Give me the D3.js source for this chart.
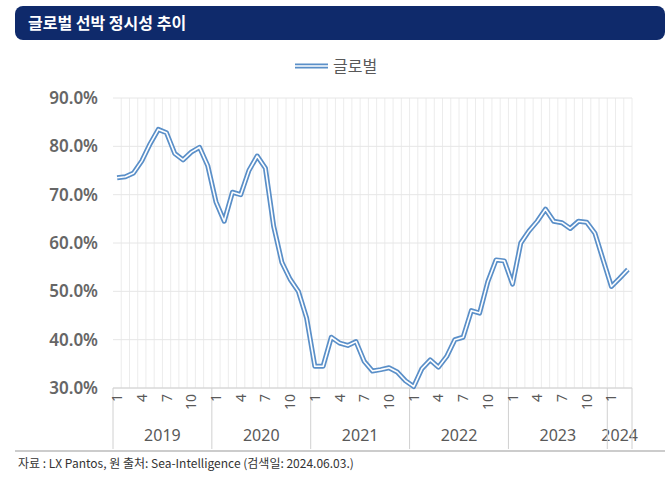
<!DOCTYPE html><html><head><meta charset="utf-8"><script src="https://d3js.org/d3.v7.min.js"></script>
<style>body{margin:0;background:#fff;font-family:"Noto Sans CJK KR","Noto Sans",sans-serif}</style></head><body><svg id="c" width="672" height="489"></svg>
<script>
const years=["2019","2020","2021","2022","2023","2024"];
const monthsPerYear=[12,12,12,12,12,3];
const values=[73.5,73.7,74.5,77,80.5,83.5,82.8,78.5,77.2,78.8,79.8,76,
68.5,64.5,70.5,70,75,78,75.5,63.5,56,52.5,50,44.5,
34.5,34.5,40.5,39.3,38.8,39.6,35.5,33.5,33.8,34.2,33.3,31.5,
30.3,34,35.8,34.3,36.5,40,40.5,46,45.5,52,56.5,56.3,
51.5,60,62.5,64.5,67,64.5,64.2,63,64.5,64.3,62,56.5,
51,52.7,54.5];
const yTicks=[30,40,50,60,70,80,90];
const labelMonths=[1,4,7,10];
const seriesName="글로벌";

const svg=d3.select("#c");
svg.append("rect").attr("x",15).attr("y",6).attr("width",650).attr("height",34).attr("rx",8).attr("fill","#0f2a6b");
svg.append("text").attr("x",28).attr("y",29).attr("fill","#fff").attr("font-size",16).attr("font-weight","bold").text("글로벌 선박 정시성 추이");

const pts=[];years.forEach((y,yi)=>{for(let m=1;m<=monthsPerYear[yi];m++)pts.push({y,m,key:y+"-"+m});});
pts.forEach((p,i)=>p.v=values[i]);
const L=113,R=632,T=98,B=388;
const x=d3.scaleBand().domain(pts.map(p=>p.key)).range([L,R]);
const y=d3.scaleLinear().domain([30,90]).range([B,T]);
const g=svg.append("g");
pts.forEach(p=>g.append("line").attr("x1",x(p.key)+x.bandwidth()).attr("x2",x(p.key)+x.bandwidth()).attr("y1",T).attr("y2",B).attr("stroke","#ececec"));
yTicks.forEach(t=>{g.append("line").attr("x1",L).attr("x2",R).attr("y1",y(t)).attr("y2",y(t)).attr("stroke","#e6e6e6");
 g.append("text").attr("x",98).attr("y",y(t)+6).attr("text-anchor","end").attr("font-size",17).attr("font-weight","600").attr("fill","#666").attr("font-family","Noto Sans").text(t.toFixed(1)+"%");});
g.append("line").attr("x1",L).attr("x2",R).attr("y1",B).attr("y2",B).attr("stroke","#d0d0d0");
let idx=0;const bounds=[L];years.forEach((yr,yi)=>{const s=x(pts[idx].key);idx+=monthsPerYear[yi];const e=x(pts[idx-1].key)+x.bandwidth();bounds.push(e);
 svg.append("text").attr("x",(s+e)/2).attr("y",441).attr("text-anchor","middle").attr("font-size",16).attr("fill","#595959").attr("font-family","Noto Sans").text(yr);});
bounds.forEach(b=>svg.append("line").attr("x1",b).attr("x2",b).attr("y1",B).attr("y2",449).attr("stroke","#d0d0d0"));
pts.filter(p=>labelMonths.includes(p.m)).forEach(p=>{const cx=x(p.key)+x.bandwidth()/2;
 svg.append("text").attr("transform",`translate(${cx+5},394) rotate(-90)`).attr("text-anchor","end").attr("font-size",14).attr("fill","#595959").attr("font-family","Noto Sans").text(p.m);});
const line=d3.line().x(p=>x(p.key)+x.bandwidth()/2).y(p=>y(p.v));
svg.append("path").datum(pts).attr("d",line).attr("fill","none").attr("stroke","#5a8fc8").attr("stroke-width",5).attr("stroke-linejoin","round");
svg.append("path").datum(pts).attr("d",line).attr("fill","none").attr("stroke","#fff").attr("stroke-width",1.6).attr("stroke-linejoin","round");
svg.append("line").attr("x1",295).attr("x2",328).attr("y1",66).attr("y2",66).attr("stroke","#5a8fc8").attr("stroke-width",5);
svg.append("line").attr("x1",295).attr("x2",328).attr("y1",66).attr("y2",66).attr("stroke","#fff").attr("stroke-width",1.6);
svg.append("text").attr("x",333).attr("y",72).attr("font-size",16).attr("fill","#595959").text(seriesName);
svg.append("line").attr("x1",15).attr("x2",665).attr("y1",451).attr("y2",451).attr("stroke","#bbb").attr("stroke-width",1.5);
svg.append("text").attr("x",18).attr("y",468).attr("font-size",12).attr("fill","#333").text("자료 : LX Pantos, 원 출처: Sea-Intelligence  (검색일: 2024.06.03.)");
</script></body></html>
